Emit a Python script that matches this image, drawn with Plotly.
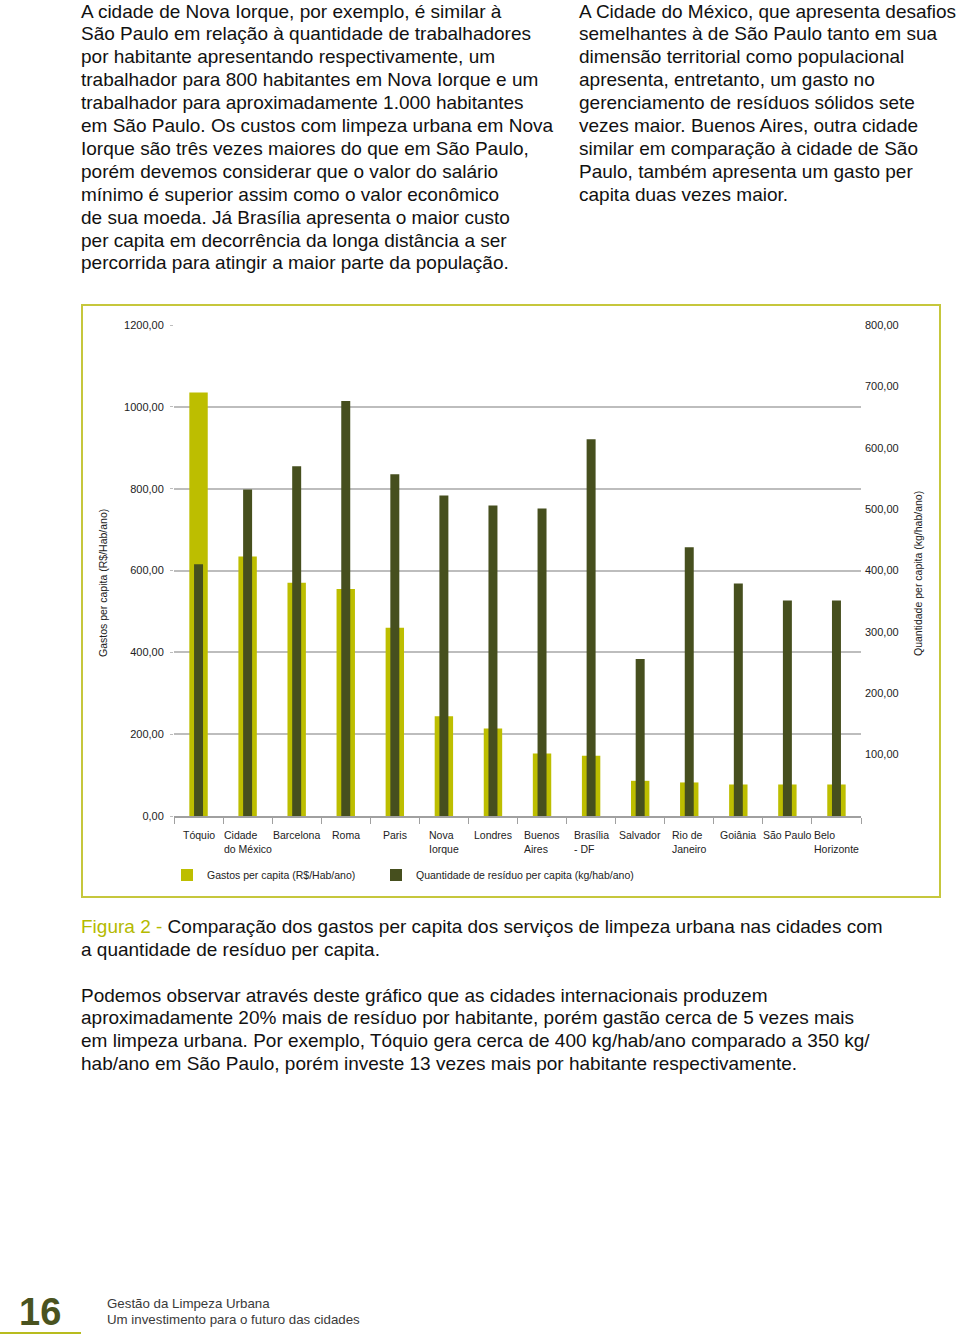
import plotly.graph_objects as go

# ---------------- data ----------------
cities = ["Tóquio", "Cidade do México", "Barcelona", "Roma", "Paris", "Nova Iorque",
          "Londres", "Buenos Aires", "Brasília - DF", "Salvador", "Rio de Janeiro",
          "Goiânia", "São Paulo", "Belo Horizonte"]
city_labels = ["Tóquio", "Cidade<br>do México", "Barcelona", "Roma", "Paris", "Nova<br>Iorque",
               "Londres", "Buenos<br>Aires", "Brasília<br>- DF", "Salvador", "Rio de<br>Janeiro",
               "Goiânia", "São Paulo", "Belo<br>Horizonte"]
gastos = [1035, 634, 570, 555, 460, 244, 214, 153, 147, 86, 82, 77, 77, 77]
residuo = [410, 532, 570, 676, 557, 522, 506, 501, 614, 256, 438, 379, 351, 351]
left_ticks = [0, 200, 400, 600, 800, 1000, 1200]
right_ticks = [100, 200, 300, 400, 500, 600, 700, 800]

col_left = [
    "A cidade de Nova Iorque, por exemplo, é similar à",
    "São Paulo em relação à quantidade de trabalhadores",
    "por habitante apresentando respectivamente, um",
    "trabalhador para 800 habitantes em Nova Iorque e um",
    "trabalhador para aproximadamente 1.000 habitantes",
    "em São Paulo. Os custos com limpeza urbana em Nova",
    "Iorque são três vezes maiores do que em São Paulo,",
    "porém devemos considerar que o valor do salário",
    "mínimo é superior assim como o valor econômico",
    "de sua moeda. Já Brasília apresenta o maior custo",
    "per capita em decorrência da longa distância a ser",
    "percorrida para atingir a maior parte da população.",
]
col_right = [
    "A Cidade do México, que apresenta desafios",
    "semelhantes à de São Paulo tanto em sua",
    "dimensão territorial como populacional",
    "apresenta, entretanto, um gasto no",
    "gerenciamento de resíduos sólidos sete",
    "vezes maior. Buenos Aires, outra cidade",
    "similar em comparação à cidade de São",
    "Paulo, também apresenta um gasto per",
    "capita duas vezes maior.",
]
caption = [
    "<span style='color:#B4BA00'>Figura 2 - </span>Comparação dos gastos per capita dos serviços de limpeza urbana nas cidades com",
    "a quantidade de resíduo per capita.",
]
paragraph = [
    "Podemos observar através deste gráfico que as cidades internacionais produzem",
    "aproximadamente 20% mais de resíduo por habitante, porém gastão cerca de 5 vezes mais",
    "em limpeza urbana. Por exemplo, Tóquio gera cerca de 400 kg/hab/ano comparado a 350 kg/",
    "hab/ano em São Paulo, porém investe 13 vezes mais por habitante respectivamente.",
]

# ---------------- layout geometry ----------------
W, H = 960, 1342
L, R, T, B = 174, 861, 325, 816
PW, PH = R - L, B - T


def px(x):
    return (x - L) / PW


def py(y):
    return (B - y) / PH


LIGHT = "#BDBE00"
DARK = "#464F1E"
FRAME = "#C6C73C"
FONT = "Liberation Sans, Arial, sans-serif"
LEGFONT = dict(family=FONT, size=10.5, color="#222222")

fig = go.Figure()
fig.add_trace(go.Bar(x=cities, y=gastos, name="Gastos per capita (R$/Hab/ano)",
                     marker=dict(color=LIGHT, line=dict(width=0)), width=0.375, yaxis="y",
                     legend="legend"))
fig.add_trace(go.Bar(x=cities, y=residuo, name="Quantidade de resíduo per capita (kg/hab/ano)",
                     marker=dict(color=DARK, line=dict(width=0)), width=0.183, yaxis="y2",
                     legend="legend2"))

annotations = []
# category labels (left-aligned lines, block centered on category)
for c, lab in zip(cities, city_labels):
    annotations.append(dict(x=c, xref="x", y=py(827), yref="paper", text=lab,
                            showarrow=False, xanchor="center", yanchor="top", align="left",
                            font=dict(family=FONT, size=10.5, color="#222222")))
# axis titles
annotations.append(dict(x=px(103), y=py(583), xref="paper", yref="paper",
                        text="Gastos per capita (R$/Hab/ano)", textangle=-90, showarrow=False,
                        xanchor="center", yanchor="middle",
                        font=dict(family=FONT, size=10.5, color="#222222")))
annotations.append(dict(x=px(918), y=py(574), xref="paper", yref="paper",
                        text="Quantidade per capita (kg/hab/ano)", textangle=-90, showarrow=False,
                        xanchor="center", yanchor="middle",
                        font=dict(family=FONT, size=10.5, color="#222222")))


def add_lines(lines, x0, y0, step, size=19, color="#111111"):
    for i, t in enumerate(lines):
        annotations.append(dict(x=px(x0), y=py(y0 + i * step), xref="paper", yref="paper",
                                text=t, showarrow=False, xanchor="left", yanchor="middle",
                                font=dict(family=FONT, size=size, color=color)))


add_lines(col_left, 79, 11, 22.9)
add_lines(col_right, 577, 11, 22.9)
add_lines(caption, 79, 926, 23)
add_lines(paragraph, 79, 995, 22.7)

# footer
annotations.append(dict(x=px(40), y=py(1312), xref="paper", yref="paper", text="<b>16</b>",
                        showarrow=False, xanchor="center", yanchor="middle",
                        font=dict(family=FONT, size=38, color="#4A5320")))
annotations.append(dict(x=px(105), y=py(1303), xref="paper", yref="paper",
                        text="Gestão da Limpeza Urbana", showarrow=False, xanchor="left",
                        yanchor="middle", font=dict(family=FONT, size=13.3, color="#3A3A3A")))
annotations.append(dict(x=px(105), y=py(1319), xref="paper", yref="paper",
                        text="Um investimento para o futuro das cidades", showarrow=False,
                        xanchor="left", yanchor="middle",
                        font=dict(family=FONT, size=13.3, color="#3A3A3A")))

shapes = [
    dict(type="rect", xref="paper", yref="paper", x0=px(82), x1=px(940), y0=py(897), y1=py(305),
         line=dict(color=FRAME, width=2), fillcolor="rgba(0,0,0,0)", layer="below"),
    dict(type="line", xref="paper", yref="paper", x0=px(0), x1=px(81), y0=py(1333), y1=py(1333),
         line=dict(color="#B8BC1E", width=2)),
]

fig.update_layout(
    width=W, height=H,
    margin=dict(l=L, r=W - R, t=T, b=H - B, pad=0),
    paper_bgcolor="white", plot_bgcolor="white",
    barmode="overlay",
    separators=",.",
    showlegend=True,
    legend=dict(orientation="h", x=px(167), y=py(875), xanchor="left", yanchor="middle",
                font=LEGFONT, bgcolor="rgba(0,0,0,0)"),
    legend2=dict(orientation="h", x=px(376), y=py(875), xanchor="left", yanchor="middle",
                 font=LEGFONT, bgcolor="rgba(0,0,0,0)"),
    xaxis=dict(type="category", tickson="boundaries", ticks="outside", ticklen=6,
               tickcolor="#A0A0A0", showticklabels=False, showline=True, linecolor="#A0A0A0",
               linewidth=1.5, showgrid=False, range=[-0.5, len(cities) - 0.5], fixedrange=True),
    yaxis=dict(range=[0, 1200], tickvals=left_ticks, tickformat=".2f", showgrid=True,
               gridcolor="#BDBDBD", gridwidth=1.5, zeroline=False, ticks="outside", ticklen=3,
               tickcolor="#BDBDBD", tickfont=dict(family=FONT, size=11, color="#222222"),
               ticklabelstandoff=4),
    yaxis2=dict(range=[0, 800], tickvals=right_ticks, tickformat=".2f", overlaying="y",
                side="right", showgrid=False, zeroline=False, ticks="",
                tickfont=dict(family=FONT, size=11, color="#222222"), ticklabelstandoff=3),
    annotations=annotations,
    shapes=shapes,
)

fig.write_html("out.html", config={"displayModeBar": False},
               post_script="document.body.style.margin='0';document.body.style.padding='0';")
